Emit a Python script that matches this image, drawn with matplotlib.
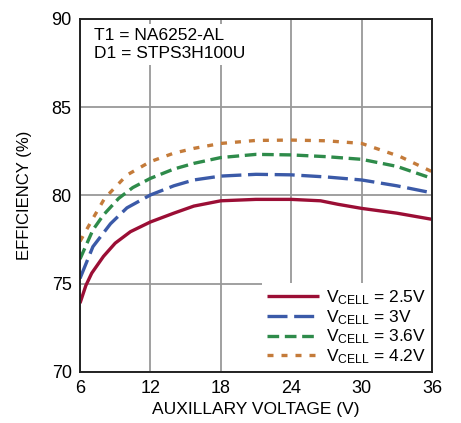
import matplotlib
matplotlib.use("Agg")
import matplotlib.pyplot as plt
from matplotlib import font_manager

names = {f.name for f in font_manager.fontManager.ttflist}
fam = "Liberation Sans Narrow" if "Liberation Sans Narrow" in names else "Liberation Sans"
plt.rcParams['font.family'] = [fam, 'DejaVu Sans']
plt.rcParams['mathtext.fontset'] = 'custom'
plt.rcParams['mathtext.rm'] = fam

x25 = [6, 6.5, 7, 8, 9, 10.3, 12, 14, 15.7, 18, 21, 24, 26.5, 28, 30, 33, 36]
y25 = [73.9, 74.9, 75.6, 76.55, 77.3, 77.95, 78.5, 79.0, 79.4, 79.7, 79.78, 79.78, 79.7, 79.5, 79.27, 79.0, 78.65]
x30 = [6, 7.1, 8.6, 10, 12, 14, 15.7, 18, 21, 24, 27, 30, 33, 36]
y30 = [75.3, 77.1, 78.4, 79.3, 80.03, 80.55, 80.88, 81.1, 81.2, 81.17, 81.05, 80.88, 80.55, 80.15]
x36 = [6, 7.1, 8, 9.3, 10.5, 12, 14, 15.7, 18, 21, 24, 27, 30, 33, 36]
y36 = [76.4, 78.05, 78.9, 79.84, 80.45, 80.97, 81.5, 81.82, 82.15, 82.33, 82.3, 82.2, 82.05, 81.65, 80.97]
x42 = [6, 7.1, 8.1, 10, 12, 14, 15.7, 18, 21, 24, 27, 30, 33.3, 36]
y42 = [77.4, 78.7, 79.84, 81.16, 81.92, 82.4, 82.67, 82.95, 83.12, 83.14, 83.1, 82.95, 82.2, 81.35]

labels = [r'$\mathregular{V_{CELL}}$ = 2.5V', r'$\mathregular{V_{CELL}}$ = 3V',
          r'$\mathregular{V_{CELL}}$ = 3.6V', r'$\mathregular{V_{CELL}}$ = 4.2V']
xticks = [6, 12, 18, 24, 30, 36]
yticks = [70, 75, 80, 85, 90]

fig = plt.figure(figsize=(4.61, 4.23), dpi=100)
ax = fig.add_axes([80/461, 1-372/423, 352/461, 353/423])

ax.plot(x25, y25, color='#9b0e35', lw=2.4, label=labels[0], solid_capstyle='butt')
ax.plot(x30, y30, color='#3b5aa8', lw=2.4, dashes=(6, 2), label=labels[1])
ax.plot(x36, y36, color='#2e8b4a', lw=2.4, dashes=(3.5, 1.7), label=labels[2])
ax.plot(x42, y42, color='#c47b3a', lw=2.4, dashes=(1.8, 2.4), label=labels[3])

ax.set_xlim(6, 36)
ax.set_ylim(70, 90)
ax.set_xticks(xticks)
ax.set_yticks(yticks)
ax.grid(True, color='#999999', lw=1.3)
ax.tick_params(length=0, labelsize=13, pad=6)
for s in ax.spines.values():
    s.set_linewidth(1.4)
    s.set_color('#222222')
ax.set_axisbelow(True)

ax.set_xlabel('AUXILLARY VOLTAGE (V)', fontsize=12.5, labelpad=3)
ax.set_ylabel('EFFICIENCY (%)', fontsize=12, labelpad=14)

ax.text(0.04, 0.975, 'T1 = NA6252-AL\nD1 = STPS3H100U', transform=ax.transAxes,
        va='top', ha='left', fontsize=12.5, linespacing=1.25,
        bbox=dict(facecolor='white', edgecolor='none', pad=3))

leg = ax.legend(loc='lower right', fontsize=12.5, handlelength=3.0, handletextpad=0.4,
                labelspacing=0.05, borderpad=0.3, borderaxespad=0.05,
                frameon=True, fancybox=False, edgecolor='none', facecolor='white',
                framealpha=1)

fig.savefig('out.png', dpi=100)
